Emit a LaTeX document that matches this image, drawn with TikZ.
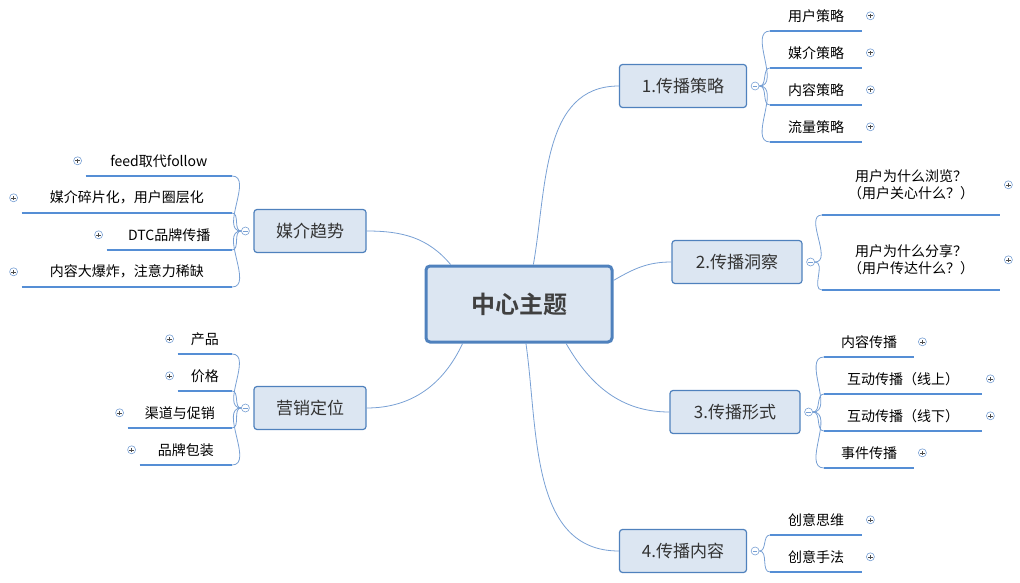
\documentclass[tikz,border=0pt]{standalone}
\usepackage{fontspec}
\setmainfont{Noto Sans CJK SC}[BoldFont=* Bold]
\usepackage{tikz}
\usetikzlibrary{positioning}
\definecolor{boxline}{RGB}{79,129,189}
\definecolor{boxfill}{RGB}{220,230,242}
\definecolor{linkline}{RGB}{120,160,212}
\definecolor{underl}{RGB}{85,142,213}

\begin{document}
\begin{tikzpicture}
[x=1pt,y=-1pt,
  central node/.style={draw=boxline,line width=3pt,fill=boxfill,rounded corners=4pt,minimum width=186,minimum height=76,font=\fontsize{24}{28}\selectfont\bfseries,text=black!75},
  main node/.style={draw=boxline,line width=1.2pt,fill=boxfill,rounded corners=3pt,minimum height=43,font=\fontsize{17}{20}\selectfont,text=black!80},
  leaf node/.style={inner sep=0pt,minimum height=30,font=\fontsize{14}{17}\selectfont,align=center},
  uline/.style={underl,line width=2.2pt},
  conn/.style={linkline,line width=0.8pt},
  minus node/.style={circle,draw=linkline,fill=white,inner sep=0pt,minimum size=8,line width=0.6pt,
    path picture={\draw[linkline,line width=0.6pt] ([xshift=-2.2]path picture bounding box.center) -- ([xshift=2.2]path picture bounding box.center);}},
  plus node/.style={circle,draw=linkline,inner sep=0pt,minimum size=8,line width=0.6pt,
    path picture={\draw[black!70,line width=0.6pt] ([xshift=-2.2]path picture bounding box.center) -- ([xshift=2.2]path picture bounding box.center)
      ([yshift=-2.2]path picture bounding box.center) -- ([yshift=2.2]path picture bounding box.center);}}]

  \useasboundingbox (0,0) rectangle (1020,583);

  \node [central node] (center) at (519,304) {中心主题};
  \node [main node,minimum width=127] (strategy) at (683,86) {1.传播策略};
  \node [main node,minimum width=130] (insight) at (737,262) {2.传播洞察};
  \node [main node,minimum width=130] (form) at (735,412) {3.传播形式};
  \node [main node,minimum width=127] (content) at (683,551) {4.传播内容};
  \node [main node,minimum width=112] (trend) at (310,231) {媒介趋势};
  \node [main node,minimum width=112] (position) at (310,408) {营销定位};

  \draw [conn] (center.70) to[out=80,in=180] (strategy.west);
  \draw [conn] (center.14) to[out=30,in=180] (insight.west);
  \draw [conn] (center.-40) to[out=-60,in=180] (form.west);
  \draw [conn] (center.-80) to[out=-82,in=180] (content.west);
  \draw [conn] (trend.east) to[out=0,in=130] (center.150);
  \draw [conn] (position.east) to[out=0,in=-115] (center.-145);

  \node [minus node] (m1) at ([xshift=8]strategy.east) {};
  \node [minus node] (m2) at ([xshift=8]insight.east) {};
  \node [minus node] (m3) at ([xshift=8]form.east) {};
  \node [minus node] (m4) at ([xshift=8]content.east) {};
  \node [minus node] (m5) at ([xshift=-8]trend.west) {};
  \node [minus node] (m6) at ([xshift=-8]position.west) {};

  % right side leaves
  \node [leaf node,anchor=south west,minimum width=92] (sa) at (770,31) {用户策略};
  \node [leaf node,anchor=south west,minimum width=92] (sb) at (770,68) {媒介策略};
  \node [leaf node,anchor=south west,minimum width=92] (sc) at (770,105) {内容策略};
  \node [leaf node,anchor=south west,minimum width=92] (sd) at (770,142) {流量策略};
  \node [leaf node,anchor=south west,minimum width=178,minimum height=60] (ia) at (822,215) {用户为什么浏览？\\（用户关心什么？）};
  \node [leaf node,anchor=south west,minimum width=178,minimum height=60] (ib) at (822,290) {用户为什么分享？\\（用户传达什么？）};
  \node [leaf node,anchor=south west,minimum width=90] (fa) at (824,357) {内容传播};
  \node [leaf node,anchor=south west,minimum width=158] (fb) at (824,394) {互动传播（线上）};
  \node [leaf node,anchor=south west,minimum width=158] (fc) at (824,431) {互动传播（线下）};
  \node [leaf node,anchor=south west,minimum width=90] (fd) at (824,468) {事件传播};
  \node [leaf node,anchor=south west,minimum width=92] (ca) at (770,535) {创意思维};
  \node [leaf node,anchor=south west,minimum width=92] (cb) at (770,572) {创意手法};

  \foreach \from/\to in {m1/sa,m1/sb,m1/sc,m1/sd,m2/ia,m2/ib,m3/fa,m3/fb,m3/fc,m3/fd,m4/ca,m4/cb} {
    \draw [conn] (\from.east) to[out=0,in=180] (\to.south west);
    \draw [uline] (\to.south west) -- (\to.south east);
    \node [plus node] at ([xshift=8]\to.east) {};
  }

  % left side leaves
  \node [leaf node,anchor=south east,minimum width=146] (ta) at (232,176) {feed取代follow};
  \node [leaf node,anchor=south east,minimum width=210] (tb) at (232,213) {媒介碎片化，用户圈层化};
  \node [leaf node,anchor=south east,minimum width=125] (tc) at (232,250) {DTC品牌传播};
  \node [leaf node,anchor=south east,minimum width=210] (td) at (232,287) {内容大爆炸，注意力稀缺};
  \node [leaf node,anchor=south east,minimum width=54] (pa) at (232,354) {产品};
  \node [leaf node,anchor=south east,minimum width=54] (pb) at (232,391) {价格};
  \node [leaf node,anchor=south east,minimum width=104] (pc) at (232,428) {渠道与促销};
  \node [leaf node,anchor=south east,minimum width=92] (pd) at (232,465) {品牌包装};

  \foreach \from/\to in {m5/ta,m5/tb,m5/tc,m5/td,m6/pa,m6/pb,m6/pc,m6/pd} {
    \draw [conn] (\from.west) to[out=180,in=0] (\to.south east);
    \draw [uline] (\to.south west) -- (\to.south east);
    \node [plus node] at ([xshift=-8]\to.west) {};
  }

\end{tikzpicture}
\end{document}
